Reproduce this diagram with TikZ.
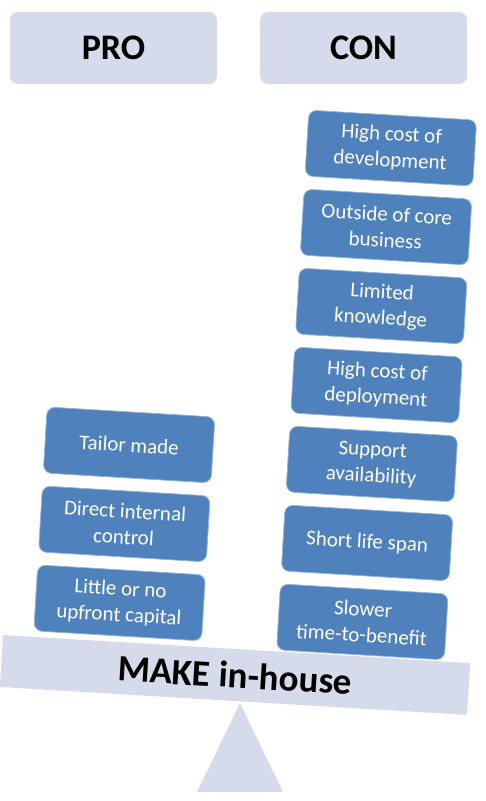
\documentclass[tikz,border=0pt]{standalone}
\usepackage{fontspec}
\setmainfont{Carlito}
\usetikzlibrary{positioning}
\definecolor{paleblue}{RGB}{213,219,234}
\definecolor{itemblue}{RGB}{79,129,189}

\begin{document}
\begin{tikzpicture}[
    x=1pt, y=1pt,
    node distance=12.3pt,
    headbox/.style={rectangle, rounded corners=8pt, fill=paleblue, minimum width=207pt, minimum height=72pt, font=\fontsize{36}{40}\selectfont\bfseries},
    itembox/.style={rectangle, rounded corners=8pt, fill=itemblue, draw=itemblue!60!white, line width=0.8pt, text=white, align=center, minimum width=168pt, minimum height=66pt, inner sep=2pt, font=\fontsize{21}{26}\selectfont},
    beambox/.style={rectangle, fill=paleblue, minimum width=468pt, minimum height=52pt, font=\fontsize{37}{40}\selectfont\bfseries}
]
\useasboundingbox (0,0) rectangle (486,801);
\node[headbox] (pro) at (113.5,753) {PRO};
\node[headbox] (con) at (363.5,753) {CON};
\fill[paleblue] (240,98) -- (283,9) -- (197,9) -- cycle;
\begin{scope}[shift={(235,126)}, rotate=-3.43, transform shape]
\node[beambox] (make) at (0,0) {MAKE in-house};
\node[itembox] (p1) at (-119.5,223.3) {Tailor made};
\node[itembox, below=of p1] (p2) {Direct internal\\control};
\node[itembox, below=of p2] (p3) {Little or no\\upfront capital};
\node[itembox] (c1) at (124,535.3) {High cost of\\development};
\node[itembox, below=of c1] (c2) {Outside of core\\business};
\node[itembox, below=of c2] (c3) {Limited\\knowledge};
\node[itembox, below=of c3] (c4) {High cost of\\deployment};
\node[itembox, below=of c4] (c5) {Support\\availability};
\node[itembox, below=of c5] (c6) {Short life span};
\node[itembox, below=of c6] (c7) {Slower\\time-to-benefit};
\end{scope}
\end{tikzpicture}
\end{document}
